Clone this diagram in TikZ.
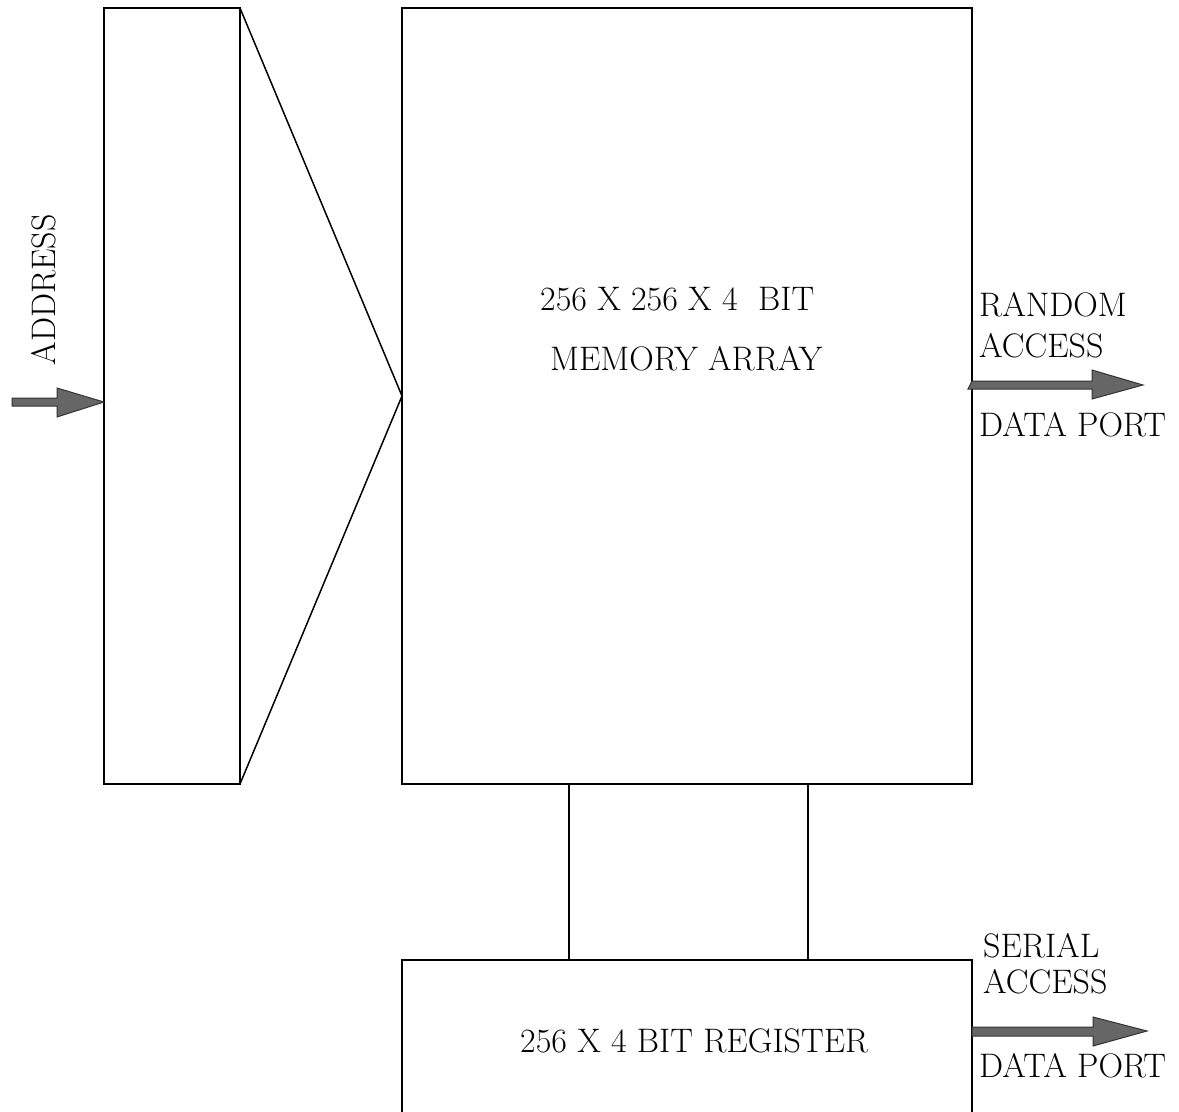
\documentclass[tikz,border=0pt]{standalone}
\usetikzlibrary{calc}
\begin{document}
\begin{tikzpicture}[x=1pt,y=-1pt,
  blk/.style={draw, line width=1.5pt, inner sep=0pt, outer sep=0pt, anchor=north west},
  wire/.style={line width=1.5pt},
  fatarrow/.style={fill=black!60, draw=black!80, line width=1pt, line join=miter},
  lbl/.style={inner sep=0pt, anchor=base west, font=\fontsize{34}{40}\selectfont}]
\useasboundingbox (0,0) rectangle (1179,1112);
% blocks
\node[blk, minimum width=136pt, minimum height=776pt] (dec) at (104,8) {};
\node[blk, minimum width=570pt, minimum height=776pt] (mem) at (402,8) {};
\node[blk, minimum width=570pt, minimum height=200pt] (reg) at (402,960) {};
% fan-out from decoder to memory
\draw[wire, line join=miter] (dec.north east) -- (mem.west) -- (dec.south east);
% links memory -> register
\draw[wire] (mem.south -| 569,0) -- (reg.north -| 569,0);
\draw[wire] (mem.south -| 808,0) -- (reg.north -| 808,0);
% address arrow
\coordinate (atip) at (dec.west |- 0,402);
\draw[fatarrow] (12,398) -- (57,398) -- (57,388) -- (atip) -- (57,417) -- (57,406) -- (12,406) -- cycle;
% random access arrow
\coordinate (rtail) at (mem.east |- 0,381);
\draw[fatarrow] (rtail) -- (1092,381) -- (1092,370) -- (1143,385) -- (1092,399) -- (1092,389) -- (968,389) -- cycle;
% serial access arrow
\coordinate (stail) at (reg.east |- 0,1027);
\draw[fatarrow] (stail) -- (1093,1027) -- (1093,1017) -- (1147,1031) -- (1093,1046) -- (1093,1036) -- (972,1036) -- cycle;
% texts
\node[lbl, rotate=90, anchor=base] (addr) at (55,290) {ADDRESS};
\node[lbl] (m1) at (540,310) {256 X 256 X 4\ \ BIT};
\node[lbl] (m2) at (550,370) {MEMORY ARRAY};
\node[lbl] (r1) at (979,316) {RANDOM};
\node[lbl] (r2) at (979,357) {ACCESS};
\node[lbl] (r3) at (979,436) {DATA PORT};
\node[lbl] (s1) at (983,957) {SERIAL};
\node[lbl] (s2) at (983,993) {ACCESS};
\node[lbl] (s3) at (979,1077) {DATA PORT};
\node[lbl] (g1) at (520,1052) {256 X 4 BIT REGISTER};
\end{tikzpicture}
\end{document}
